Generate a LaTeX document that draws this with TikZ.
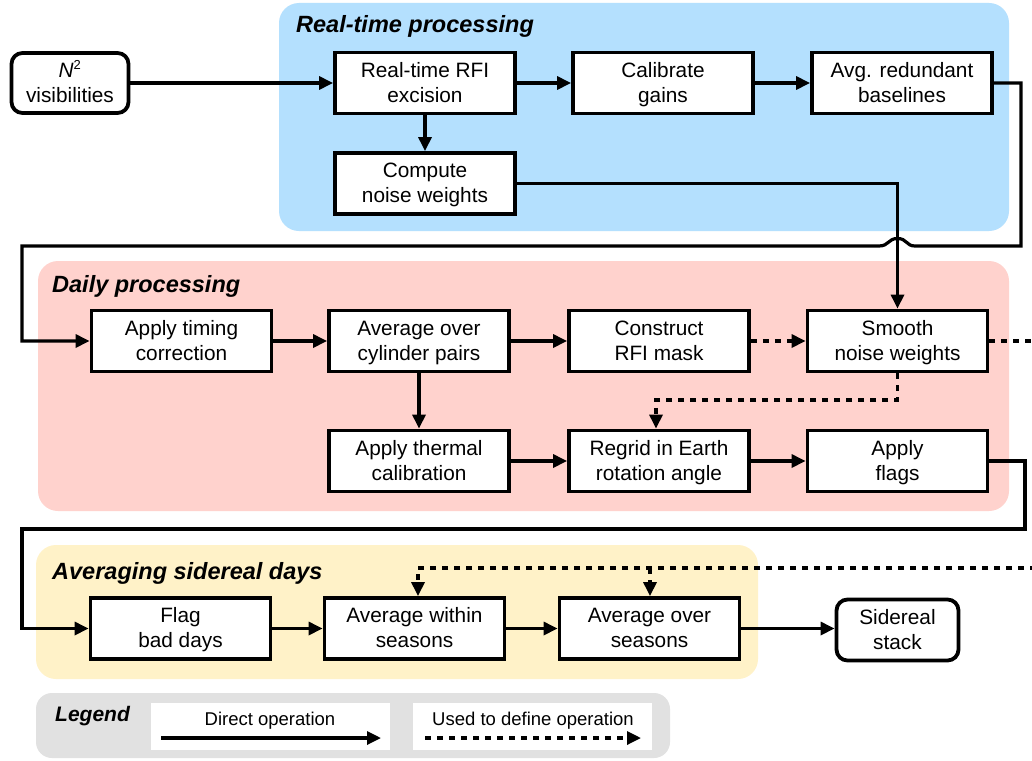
\documentclass[tikz,border=0pt]{standalone}
\usepackage{fontspec}
\setmainfont{Liberation Sans}
\usetikzlibrary{arrows.meta}
\definecolor{bgblue}{RGB}{180,224,254}
\definecolor{bgred}{RGB}{255,210,205}
\definecolor{bgyellow}{RGB}{255,242,200}
\definecolor{bggray}{RGB}{225,225,225}
\begin{document}
\begin{tikzpicture}[x=1pt,y=-1pt,
  box/.style={draw, line width=3.8pt, fill=white, minimum width=180pt, minimum height=61pt,
    inner sep=0pt, align=center, font=\fontsize{20.8pt}{25pt}\selectfont,
    text height=43pt, text depth=5pt},
  rbox/.style={box, rounded corners=11pt},
  region/.style={rounded corners=20pt},
  title/.style={anchor=base west, inner sep=0pt, font=\fontsize{23.5pt}{27pt}\selectfont\bfseries\itshape},
  legtext/.style={anchor=base, inner sep=0pt, font=\fontsize{18.5pt}{22pt}\selectfont},
  arr/.style={line width=3.2pt, -{Triangle[length=14pt,width=13pt]}},
  darr/.style={arr, dash pattern=on 6pt off 6pt},
  dln/.style={line width=3.2pt, dash pattern=on 6pt off 6pt}]
\useasboundingbox (0,0) rectangle (1032,760);
\fill[white] (0,0) rectangle (1032,760);
% regions
\fill[bgblue, region] (279,3) rectangle (1009,231);
\fill[bgred, region] (38,261) rectangle (1009,511);
\fill[bgyellow, region] (36,545) rectangle (758,679);
\fill[bggray, rounded corners=16pt] (36,693) rectangle (670,758);
\fill[white] (151,703) rectangle (390,750);
\fill[white] (413,703) rectangle (652,750);
% titles
\node[title] (t1) at (296,33) {Real-time processing};
\node[title] (t2) at (52,292) {Daily processing};
\node[title] (t3) at (52,579) {Averaging sidereal days};
\node[title, font=\fontsize{21pt}{24pt}\selectfont\bfseries\itshape] (t4) at (55,721) {Legend};
% real-time
\node[rbox, minimum width=117pt, minimum height=60pt] (n2) at (70,83) {{\itshape N}\textsuperscript{\fontsize{13pt}{13pt}\selectfont 2}\\visibilities};
\node[box] (rfi) at (425,83) {Real-time RFI\\excision};
\node[box] (cal) at (663,83) {Calibrate\\gains};
\node[box] (avg) at (902,83) {Avg. redundant\\baselines};
\node[box] (noise) at (425,183.5) {Compute\\noise weights};
% daily
\node[box] (timing) at (181.5,341) {Apply timing\\correction};
\node[box] (cyl) at (419,341) {Average over\\cylinder pairs};
\node[box] (rfimask) at (659,341) {Construct\\RFI mask};
\node[box] (smooth) at (897.5,341) {Smooth\\noise weights};
\node[box] (thermal) at (419,461) {Apply thermal\\calibration};
\node[box] (regrid) at (659,461) {Regrid in Earth\\rotation angle};
\node[box] (flags) at (897.5,461) {Apply\\flags};
% averaging
\node[box] (flag) at (180.5,628.5) {Flag\\bad days};
\node[box] (within) at (414.5,628.5) {Average within\\seasons};
\node[box] (over) at (649.5,628.5) {Average over\\seasons};
\node[rbox, minimum width=122pt] (sid) at (897.5,630) {Sidereal\\stack};
% legend
\node[legtext] (lt1) at (270,725) {Direct operation};
\node[legtext] (lt2) at (533,725) {Used to define operation};
\coordinate (la1) at (161,738); \coordinate (la2) at (381,738);
\coordinate (lb1) at (425,738); \coordinate (lb2) at (641,738);
\draw[arr] (la1) -- (la2);
\draw[darr] (lb1) -- (lb2);
% connectors real-time
\draw[arr] (n2.east) -- (n2.east -| rfi.west);
\draw[arr] (rfi) -- (cal);
\draw[arr] (cal) -- (avg);
\draw[arr] (rfi) -- (noise);
\draw[arr] (noise.east) -| (smooth.north);
\coordinate (c1) at (1021,246); \coordinate (c2) at (22,246);
\coordinate (hr) at (915,246); \coordinate (hl) at (879,246);
\draw[arr] (avg.east) -- (avg.east -| c1) -- (c1) -- (hr)
  .. controls (906,246) and (907,238.5) .. (897.5,238.5)
  .. controls (888,238.5) and (889,246) .. (hl) -- (c2) -- (c2 |- timing.west) -- (timing.west);
% daily connectors
\draw[arr] (timing) -- (cyl);
\draw[arr] (cyl) -- (rfimask);
\draw[darr] (rfimask) -- (smooth);
\coordinate (e1) at (1036,341);
\draw[dln] (smooth.east) -- (e1);
\draw[arr] (cyl) -- (thermal);
\coordinate (d3) at (656,400);
\draw[darr] (smooth.south) |- (d3) -- (d3 |- regrid.north);
\draw[arr] (thermal) -- (regrid);
\draw[arr] (regrid) -- (flags);
\coordinate (c3) at (1025,529); \coordinate (c4) at (22,529);
\draw[arr] (flags.east) -- (flags.east -| c3) -- (c3) -- (c4) -- (c4 |- flag.west) -- (flag.west);
% averaging connectors
\draw[arr] (flag) -- (within);
\draw[arr] (within) -- (over);
\draw[arr] (over.east) -- (over.east -| sid.west);
\coordinate (e2) at (1036,568); \coordinate (d1) at (418,568); \coordinate (d2) at (650,568);
\draw[darr] (e2) -- (d1) -- (d1 |- within.north);
\draw[darr] (d2) -- (d2 |- over.north);
\end{tikzpicture}
\end{document}
